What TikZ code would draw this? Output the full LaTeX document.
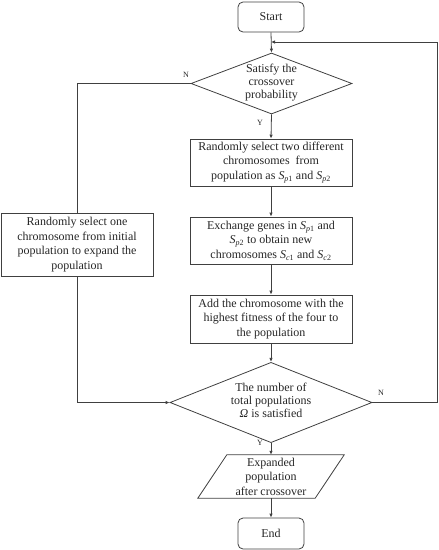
\documentclass[tikz,border=0pt]{standalone}
\usepackage{fontspec}
\setmainfont{Liberation Serif}
\usetikzlibrary{shapes.geometric,arrows.meta}
\newcommand{\Ssub}[2]{\textit{S}\textsubscript{\textit{#1}#2}}
\begin{document}
\begin{tikzpicture}[x=1pt,y=-1pt,
  every node/.style={font=\fontsize{12}{14.5}\selectfont, text=black!85},
  line/.style={draw=black!75, line width=0.8pt},
  arr/.style={line, -{Latex[length=4pt,width=3.5pt]}},
  term/.style={line, rectangle, rounded corners=5pt, minimum width=66pt, minimum height=30pt, inner sep=0pt},
  proc/.style={line, rectangle, minimum width=162pt, minimum height=47pt, align=center, inner sep=0pt},
  dec/.style={line, diamond, inner sep=0pt, align=center},
  lbl/.style={font=\fontsize{8}{9}\selectfont, inner sep=0pt}
]
\useasboundingbox (0,0) rectangle (439,550);
\node[term] (start) at (271,17) {Start};
\node[dec, minimum width=161pt, minimum height=61pt] (d1) at (271.5,83.5)
  {\smash{\raisebox{-2pt}{\begin{tabular}{@{}c@{}}Satisfy the\\[-1.5pt] crossover\\[-1.5pt] probability\end{tabular}}}};
\node[proc] (b1) at (271,162.5) {Randomly select two different\\ chromosomes\ \ from\\ population as \Ssub{p}{1} and \Ssub{p}{2}};
\node[proc] (b2) at (271,240.5) {Exchange genes in \Ssub{p}{1} and\\ \Ssub{p}{2} to obtain new\\ chromosomes \Ssub{c}{1} and \Ssub{c}{2}};
\node[proc, minimum height=48pt] (b3) at (271,319) {Add the chromosome with the\\ highest fitness of the four to\\ the population};
\node[dec, minimum width=202pt, minimum height=69pt] (d2) at (271,402.5)
  {\smash{\raisebox{-2pt}{\begin{tabular}{@{}c@{}}The number of\\[-1.5pt] total populations\\[-1.5pt] \textit{Ω} is satisfied\end{tabular}}}};
\node[proc, minimum width=152pt, minimum height=63pt] (left) at (77,244.5)
  {Randomly select one\\ chromosome from initial\\ population to expand the\\ population};
\node[rectangle, minimum width=117pt, minimum height=43pt, inner sep=0pt, align=center] (io) at (271,476.5)
  {Expanded\\ population\\ after crossover};
\draw[line] ([xshift=14.5pt]io.north west) -- ([xshift=14.5pt]io.north east)
  -- ([xshift=-14.5pt]io.south east) -- ([xshift=-14.5pt]io.south west) -- cycle;
\node[term, minimum height=31pt] (end) at (271,533.5) {End};

\coordinate (join) at (271,42);
\coordinate (rt) at (437,402.5);
\coordinate (rtop) at (437,42);

\draw[arr] (start.south) -- (d1.north);
\draw[arr] (d1.south) -- (b1.north);
\draw[arr] (b1.south) -- (b2.north);
\draw[arr] (b2.south) -- (b3.north);
\draw[arr] (b3.south) -- (d2.north);
\draw[arr] (d2.south) -- (io.north);
\draw[arr] (io.south) -- (end.north);
\draw[line] (d1.west) -- (left.north |- d1.west) -- (left.north);
\draw[arr] (left.south) -- (left.south |- d2.west) -- (d2.west);
\draw[arr] (d2.east) -- (rt) -- (rtop) -- (join);

\node[lbl] (n1) at (186,75) {N};
\node[lbl] (y1) at (260,123) {Y};
\node[lbl] (n2) at (381,393) {N};
\node[lbl] (y2) at (260,443) {Y};
\end{tikzpicture}
\end{document}
